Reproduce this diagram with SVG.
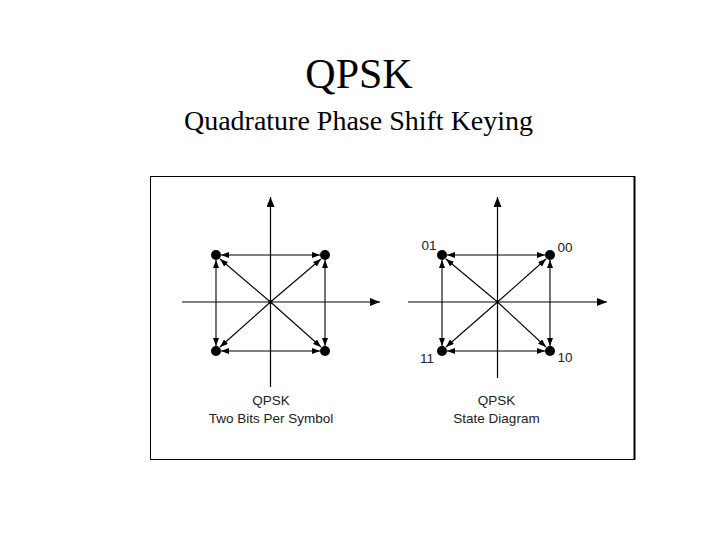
<svg xmlns="http://www.w3.org/2000/svg" width="720" height="540" viewBox="0 0 720 540">
<style>
.title{font-family:"Liberation Serif","Times New Roman",serif;fill:#000}
.lbl{font-family:"Liberation Sans",Arial,sans-serif;font-size:13.5px;fill:#222}
.ax{stroke:#000;stroke-width:1.2;fill:none}
.ed{stroke:#000;stroke-width:1.1;fill:none}
.dot{fill:#000}
</style>
<defs>
<marker id="ah" viewBox="0 0 8 6" refX="8" refY="3" markerWidth="8" markerHeight="6" markerUnits="userSpaceOnUse" orient="auto-start-reverse">
<path d="M0,0 L8,3 L0,6 z" fill="#000"/>
</marker>
<marker id="axh" viewBox="0 0 10 8" refX="10" refY="4" markerWidth="10" markerHeight="8" markerUnits="userSpaceOnUse" orient="auto">
<path d="M0,0 L10,4 L0,8 z" fill="#000"/>
</marker>
</defs>
<rect width="720" height="540" fill="#fff"/>
<g id="title">
<text class="title" x="359" y="88" font-size="42" text-anchor="middle">QPSK</text>
<text class="title" x="358.5" y="130" font-size="28" text-anchor="middle">Quadrature Phase Shift Keying</text>
</g>
<g id="frame">
<rect x="150.5" y="176.5" width="484" height="283" fill="none" stroke="#000" stroke-width="1"/>
<line x1="634.5" y1="176" x2="634.5" y2="460" stroke="#000" stroke-width="2"/>
</g>
<g id="connectors">
<line class="ax" x1="270.5" y1="387" x2="270.5" y2="197" marker-end="url(#axh)"/>
<line class="ax" x1="182" y1="302" x2="380" y2="302" marker-end="url(#axh)"/>
<line class="ed" x1="221" y1="255" x2="320" y2="255" marker-start="url(#ah)" marker-end="url(#ah)"/>
<line class="ed" x1="221" y1="351" x2="320" y2="351" marker-start="url(#ah)" marker-end="url(#ah)"/>
<line class="ed" x1="216" y1="260" x2="216" y2="346" marker-start="url(#ah)" marker-end="url(#ah)"/>
<line class="ed" x1="325" y1="260" x2="325" y2="346" marker-start="url(#ah)" marker-end="url(#ah)"/>
<line class="ed" x1="270.5" y1="302" x2="220" y2="259" marker-end="url(#ah)"/>
<line class="ed" x1="270.5" y1="302" x2="321" y2="259" marker-end="url(#ah)"/>
<line class="ed" x1="270.5" y1="302" x2="220" y2="347" marker-end="url(#ah)"/>
<line class="ed" x1="270.5" y1="302" x2="321" y2="347" marker-end="url(#ah)"/>
<line class="ax" x1="497.5" y1="378" x2="497.5" y2="197" marker-end="url(#axh)"/>
<line class="ax" x1="408" y1="302" x2="607" y2="302" marker-end="url(#axh)"/>
<line class="ed" x1="447" y1="255" x2="545" y2="255" marker-start="url(#ah)" marker-end="url(#ah)"/>
<line class="ed" x1="447" y1="351" x2="545" y2="351" marker-start="url(#ah)" marker-end="url(#ah)"/>
<line class="ed" x1="442" y1="260" x2="442" y2="346" marker-start="url(#ah)" marker-end="url(#ah)"/>
<line class="ed" x1="550" y1="260" x2="550" y2="346" marker-start="url(#ah)" marker-end="url(#ah)"/>
<line class="ed" x1="497.5" y1="302" x2="446" y2="259" marker-end="url(#ah)"/>
<line class="ed" x1="497.5" y1="302" x2="546" y2="259" marker-end="url(#ah)"/>
<line class="ed" x1="497.5" y1="302" x2="446" y2="347" marker-end="url(#ah)"/>
<line class="ed" x1="497.5" y1="302" x2="546" y2="347" marker-end="url(#ah)"/>
</g>
<g id="left-diagram">
<circle class="dot" cx="270.5" cy="302" r="2"/>
<circle class="dot" cx="216" cy="255" r="5"/>
<circle class="dot" cx="325" cy="255" r="5"/>
<circle class="dot" cx="216" cy="351" r="5"/>
<circle class="dot" cx="325" cy="351" r="5"/>
<text class="lbl" x="271" y="405" text-anchor="middle">QPSK</text>
<text class="lbl" x="271" y="423" text-anchor="middle">Two Bits Per Symbol</text>
</g>
<g id="right-diagram">
<circle class="dot" cx="497.5" cy="302" r="1.5"/>
<circle class="dot" cx="442" cy="255" r="5"/>
<circle class="dot" cx="550" cy="255" r="5"/>
<circle class="dot" cx="442" cy="351" r="5"/>
<circle class="dot" cx="550" cy="351" r="5"/>
<text class="lbl" x="429" y="250" text-anchor="middle">01</text>
<text class="lbl" x="565" y="252" text-anchor="middle">00</text>
<text class="lbl" x="427" y="363" text-anchor="middle">11</text>
<text class="lbl" x="565" y="362" text-anchor="middle">10</text>
<text class="lbl" x="496.5" y="405" text-anchor="middle">QPSK</text>
<text class="lbl" x="496.5" y="423" text-anchor="middle">State Diagram</text>
</g>
</svg>
